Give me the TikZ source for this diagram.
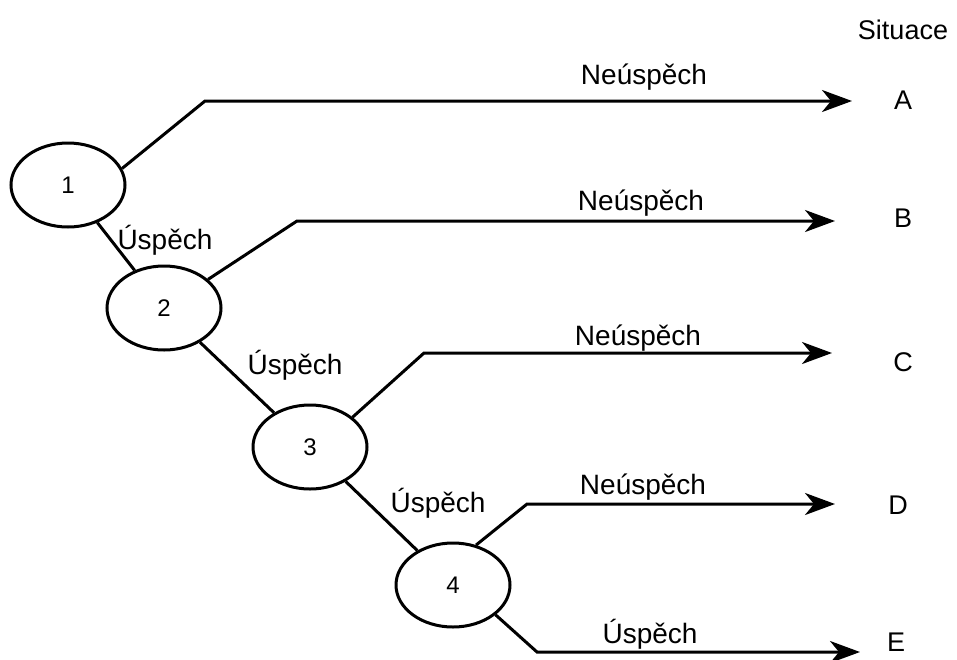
\documentclass[tikz,border=0pt]{standalone}
\usepackage{fontspec}
\setmainfont{Liberation Sans}
\usetikzlibrary{shapes.geometric,arrows.meta}
\begin{document}
\begin{tikzpicture}[x=1pt,y=-1pt,
  state/.style={draw,line width=3pt,ellipse,minimum width=114pt,minimum height=84pt,inner sep=0pt,font=\fontsize{24}{28}\selectfont},
  edge/.style={line width=3pt},
  branch/.style={line width=3pt,-{Stealth[length=30pt,width=22pt,inset=9pt]}},
  lbl/.style={font=\fontsize{28}{32}\selectfont,inner sep=0pt},
  outcome/.style={font=\fontsize{27}{32}\selectfont,inner sep=0pt}]
\useasboundingbox (0,0) rectangle (957,659);

% decision nodes
\node[state] (n1) at (68,185) {1};
\node[state] (n2) at (164,308) {2};
\node[state] (n3) at (310,447) {3};
\node[state] (n4) at (453,585) {4};

% outcomes
\node[outcome] (sit) at (903,30) {Situace};
\node[outcome] (A) at (903,100) {A};
\node[outcome] (B) at (903,218) {B};
\node[outcome] (C) at (903,362) {C};
\node[outcome] (D) at (898,505) {D};
\node[outcome] (E) at (896,642) {E};

% bends and arrow ends
\coordinate (k1) at (205,101);  \coordinate (e1) at (852,101);
\coordinate (k2) at (297,221);  \coordinate (e2) at (835,221);
\coordinate (k3) at (424,353);  \coordinate (e3) at (832,353);
\coordinate (k4) at (527,504);  \coordinate (e4) at (835,504);
\coordinate (k5) at (537,652);  \coordinate (e5) at (860,652);

% success chain
\draw[edge] (n1) -- (n2);
\draw[edge] (n2) -- (n3);
\draw[edge] (n3) -- (n4);

% branches to outcomes
\draw[branch] (n1.17) -- (k1) -- (e1);
\draw[branch] (n2.33) -- (k2) -- (e2);
\draw[branch] (n3.35) -- (k3) -- (e3);
\draw[branch] (n4.60) -- (k4) -- (e4);
\draw[branch] (n4.-35) -- (k5) -- (e5);

% labels
\node[lbl] (l1) at (644,77) {Neúspěch};
\node[lbl] (l2) at (641,203) {Neúspěch};
\node[lbl] (l3) at (638,338) {Neúspěch};
\node[lbl] (l4) at (643,487) {Neúspěch};
\node[lbl] (l5) at (650,634) {Úspěch};
\node[lbl] (u1) at (165,240) {Úspěch};
\node[lbl] (u2) at (295,365) {Úspěch};
\node[lbl] (u3) at (438,503) {Úspěch};
\end{tikzpicture}
\end{document}
